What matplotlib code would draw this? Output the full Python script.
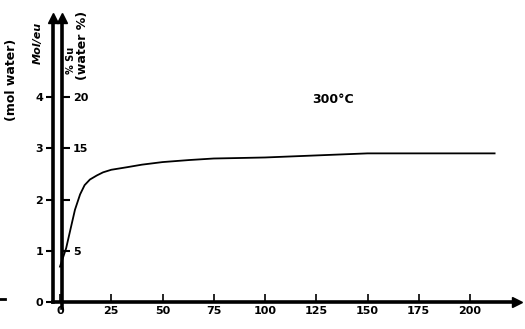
import numpy as np
import matplotlib
matplotlib.use("Agg")
from matplotlib import pyplot as plt

# time (x) and adsorbed water, mol per unit cell (left axis)
time = [0, 3, 5, 7.3, 9.8, 12, 14.6, 18, 21, 25, 32.7, 40, 50, 63, 75, 88, 100,
        125, 150, 175, 200, 212]
mol = [0.69, 1.05, 1.4, 1.8, 2.1, 2.28, 2.39, 2.47, 2.53, 2.58, 2.63, 2.68,
       2.73, 2.77, 2.8, 2.81, 2.82, 2.86, 2.9, 2.9, 2.9, 2.9]

x_ticks = [0, 25, 50, 75, 100, 125, 150, 175, 200]
mol_ticks = [0, 1, 2, 3, 4]
pct_ticks = [5, 10, 15, 20]
pct_labels = ["5", "", "15", "20"]
label_temp = "300°C"

W, H = 525, 329
fig = plt.figure(figsize=(W / 100, H / 100), dpi=100)
ax = fig.add_axes([0, 0, 1, 1])

# pixel mapping
px_per_t = 2.05
px_per_mol = 51.25
x0_px, y0_px = 60, 302
ax.set_xlim(-x0_px / px_per_t, (W - x0_px) / px_per_t)
ax.set_ylim(-(H - y0_px) / px_per_mol, y0_px / px_per_mol)

ax2 = ax.twinx()
ax2.set_ylim(ax.get_ylim()[0] * 5, ax.get_ylim()[1] * 5)
ax2.set_position([0, 0, 1, 1])

lw = 2.6
xl = -3.4   # left spine (mol)
xr = 1.0    # right spine (%)
ytop = 5.5

for s in ["top", "right"]:
    ax.spines[s].set_visible(False)
for s in ["top", "left", "bottom"]:
    ax2.spines[s].set_visible(False)

ax.spines["left"].set_position(("data", xl))
ax.spines["left"].set_bounds(0, ytop)
ax.spines["left"].set_linewidth(lw)
ax.spines["bottom"].set_position(("data", 0))
ax.spines["bottom"].set_bounds(xl, 222)
ax.spines["bottom"].set_linewidth(lw)

ax2.spines["right"].set_position(("data", xr))
ax2.spines["right"].set_bounds(-0.6, ytop * 5)
ax2.spines["right"].set_linewidth(lw)

fnt = dict(fontsize=8, fontweight="bold")
ax.set_xticks(x_ticks)
ax.set_xticklabels([str(v) for v in x_ticks], **fnt)
ax.tick_params(axis="x", direction="in", length=6, width=1.2, pad=3)
ax.set_yticks(mol_ticks)
ax.set_yticklabels([str(v) for v in mol_ticks], **fnt)
ax.tick_params(axis="y", direction="out", length=5, width=1.5, pad=2)

ax2.set_yticks(pct_ticks)
ax2.set_yticklabels(pct_labels, **fnt)
ax2.tick_params(axis="y", direction="out", length=6, width=1.5, pad=2)

# arrow heads
ax.plot([xl, xr], [ytop + 0.05, ytop + 0.05], ls="none", marker="^", ms=7, color="black", clip_on=False)
ax.plot([223], [0], ls="none", marker=">", ms=7, color="black", clip_on=False)
ax.plot([-29.3, -27], [0.05, 0.05], color="black", lw=2)

ax.plot(time, mol, color="black", lw=1.3)

ax.text(133, 3.95, label_temp, fontsize=9, fontweight="bold", ha="center", va="center")

ax.text(-23.5, 4.33, "(mol water)", rotation=90, ha="center", va="center", fontsize=9, fontweight="bold")
ax.text(-11, 5.05, "Mol/eu", rotation=90, ha="center", va="center", fontsize=8, fontstyle="italic", fontweight="bold")
ax.text(5.5, 4.72, "% Su", rotation=90, ha="center", va="center", fontsize=7, fontweight="bold")
ax.text(11, 5.0, "(water %)", rotation=90, ha="center", va="center", fontsize=9, fontweight="bold")

fig.savefig("out.png", dpi=100)
